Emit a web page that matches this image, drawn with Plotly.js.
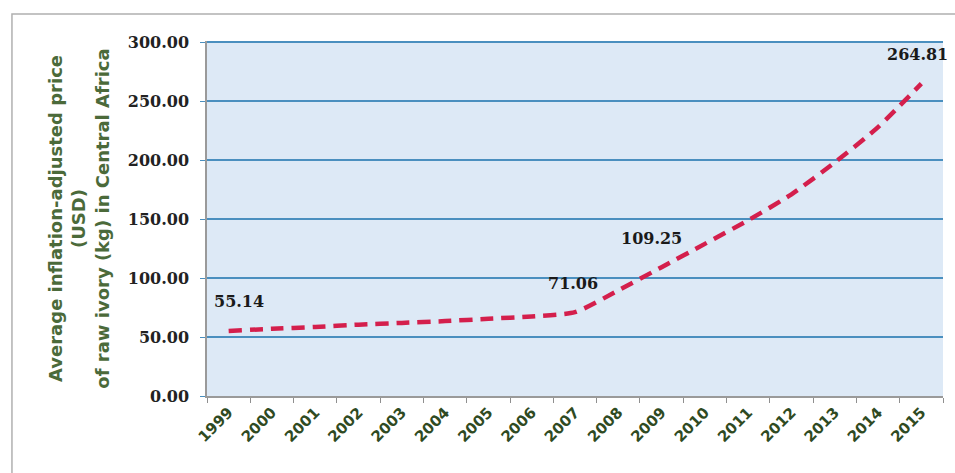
<!DOCTYPE html>
<html>
<head>
<meta charset="utf-8">
<script src="https://cdn.plot.ly/plotly-3.0.1.min.js"></script>
<style>
  html, body { margin: 0; padding: 0; background: #ffffff; }
  #chart { width: 955px; height: 473px; }
</style>
</head>
<body>
<div id="chart"></div>
<script>
// Data
var years = ['1999','2000','2001','2002','2003','2004','2005','2006','2007','2008','2009','2010','2011','2012','2013','2014','2015'];
var prices = [55.14, 57.0, 58.5, 60.5, 62.0, 63.5, 65.5, 67.5, 71.06, 89.5, 109.25, 129.0, 149.0, 171.0, 198.0, 228.0, 264.81];
var labelYears = ['1999', '2007', '2009', '2015'];
var labelTexts = ['55.14', '71.06', '109.25', '264.81'];
var labelShiftX = [10, -2, -10, -4];
var yTickVals = [0, 50, 100, 150, 200, 250, 300];

var trace = {
  x: years,
  y: prices,
  type: 'scatter',
  mode: 'lines',
  line: { color: '#d41f4c', width: 4.5, dash: '13px,8px', shape: 'spline', smoothing: 0.6 },
  hoverinfo: 'x+y',
  showlegend: false
};

var annotations = labelYears.map(function (yr, i) {
  var idx = years.indexOf(yr);
  return {
    x: idx,
    y: prices[idx],
    xref: 'x',
    yref: 'y',
    text: labelTexts[i],
    showarrow: false,
    yshift: 29,
    xshift: labelShiftX[i],
    font: { family: 'DejaVu Serif', size: 16, color: '#1a1a1a', weight: 'bold' }
  };
});

var layout = {
  width: 955,
  height: 473,
  margin: { l: 207, r: 12, t: 41, b: 77 },
  paper_bgcolor: '#ffffff',
  plot_bgcolor: '#dde9f6',
  showlegend: false,
  xaxis: {
    type: 'category',
    categoryorder: 'array',
    categoryarray: years,
    range: [-0.5, years.length - 0.5],
    autorange: false,
    tickson: 'boundaries',
    ticks: 'outside',
    ticklen: 5,
    tickcolor: '#8f8f8f',
    showline: true,
    linecolor: '#9a9a9a',
    linewidth: 1.5,
    showgrid: false,
    tickangle: -45,
    tickfont: { family: 'DejaVu Sans', size: 15, color: '#2f4a22', weight: 'bold' }
  },
  yaxis: {
    range: [0, 301],
    autorange: false,
    tickvals: yTickVals,
    tickformat: '.2f',
    showgrid: true,
    gridcolor: '#4a8fbf',
    gridwidth: 2,
    zeroline: false,
    showline: true,
    linecolor: '#9a9a9a',
    linewidth: 1.5,
    ticks: 'outside',
    ticklen: 5,
    tickcolor: '#4a8fbf',
    ticklabelstandoff: 8,
    tickfont: { family: 'DejaVu Serif', size: 16, color: '#222222', weight: 'bold' },
    title: {
      text: 'Average inflation-adjusted price<br>(USD)<br>of raw ivory (kg) in Central Africa',
      font: { family: 'DejaVu Sans', size: 18, color: '#4b6a3a', weight: 'bold' },
      standoff: 14
    }
  },
  annotations: annotations,
  shapes: [{
    type: 'rect',
    xref: 'paper',
    yref: 'paper',
    x0: -0.265,
    x1: 1.2,
    y0: -0.5,
    y1: 1.076,
    line: { color: '#b0b0b0', width: 1.5 },
    fillcolor: 'rgba(0,0,0,0)',
    layer: 'above'
  }]
};

Plotly.newPlot('chart', [trace], layout, { displayModeBar: false, responsive: false });
</script>
</body>
</html>
